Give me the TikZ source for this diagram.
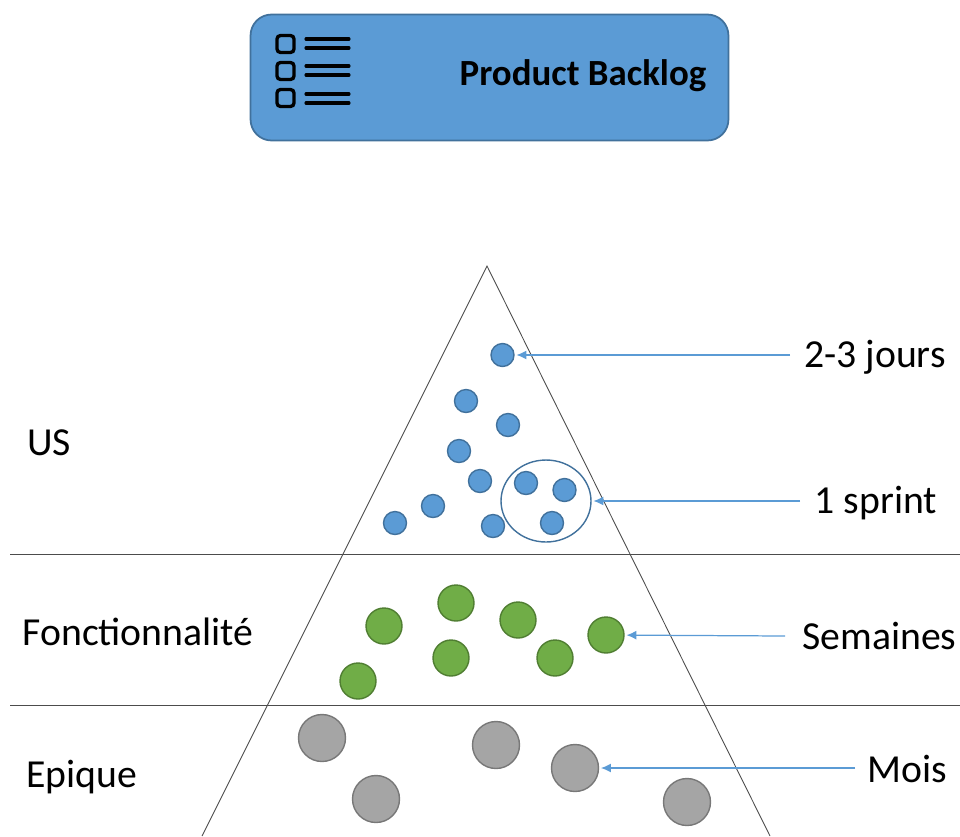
\documentclass[tikz,border=0pt]{standalone}
\usepackage{fontspec}
\usetikzlibrary{shapes.geometric,arrows.meta}
\setmainfont{Carlito}
\definecolor{boxblue}{HTML}{5B9BD5}
\definecolor{boxedge}{HTML}{41719C}
\definecolor{dotgreen}{HTML}{70AD47}
\definecolor{edgegreen}{HTML}{507E32}
\definecolor{dotgray}{HTML}{A5A5A5}
\definecolor{edgegray}{HTML}{787878}
\tikzset{
  usdot/.style={circle, draw=boxedge, line width=0.8pt, fill=boxblue, inner sep=0pt, minimum size=0.46cm},
  featdot/.style={circle, draw=edgegreen, line width=0.8pt, fill=dotgreen, inner sep=0pt, minimum size=0.72cm},
  epicdot/.style={circle, draw=edgegray, line width=0.8pt, fill=dotgray, inner sep=0pt, minimum size=0.94cm},
  lbl/.style={font=\fontsize{22.6}{25}\selectfont, inner sep=0pt},
  pointer/.style={-{Latex[length=0.2cm,width=0.18cm]}, boxblue, line width=0.7pt, shorten >=1pt},
  iconbox/.style={draw=black, line width=1.9pt, rounded corners=2pt, inner sep=0pt, minimum size=0.34cm},
  iconbar/.style={black, line width=1.8pt, line cap=round},
  rule/.style={black!70, line width=0.5pt}
}
\begin{document}
\begin{tikzpicture}[x=0.02cm,y=-0.02cm]
\useasboundingbox (0,0) rectangle (960,836);
% backlog box
\node (backlog) at (489.5,77.5) [draw=boxedge, line width=1pt, fill=boxblue, rounded corners=0.42cm, minimum width=9.56cm, minimum height=2.52cm] {};
\node (title) at (583,76) [font=\fontsize{21}{24}\selectfont\bfseries, inner sep=0pt] {Product Backlog};
% icon
\node (check1) at (285.5,44) [iconbox] {};
\node (check2) at (285.5,71) [iconbox] {};
\node (check3) at (285.5,98) [iconbox] {};
\draw [iconbar] (306,39) -- (349,39);
\draw [iconbar] (306,48) -- (349,48);
\draw [iconbar] (306,66) -- (349,66);
\draw [iconbar] (306,75) -- (349,75);
\draw [iconbar] (306,94) -- (349,94);
\draw [iconbar] (306,103) -- (349,103);
% pyramid
\coordinate (apex) at (487,266);
\coordinate (baseL) at (202,836);
\coordinate (baseR) at (770,836);
\draw [rule] (baseL) -- (apex) -- (baseR);
\draw [rule] (10,554) -- (960,554);
\draw [rule] (10,705) -- (960,705);
% left labels
\node (us) at (49,443) [lbl] {US};
\node (feature) at (138,632) [lbl] {Fonctionnalité};
\node (epic) at (82,777) [lbl] {Epique};
% user stories
\node (us1) at (502.5,355) [usdot] {};
\node (us2) at (466,401) [usdot] {};
\node (us3) at (508,425) [usdot] {};
\node (us4) at (459,451) [usdot] {};
\node (us5) at (480,481) [usdot] {};
\node (us6) at (433,506) [usdot] {};
\node (us7) at (395,523) [usdot] {};
\node (us8) at (493,526) [usdot] {};
\node (us9) at (526,483) [usdot] {};
\node (us10) at (564.5,490) [usdot] {};
\node (us11) at (552,523) [usdot] {};
\node (sprint) at (546,501) [draw=boxedge, line width=0.8pt, ellipse, minimum width=1.8cm, minimum height=1.64cm, inner sep=0pt] {};
% features
\node (feat1) at (384,626) [featdot] {};
\node (feat2) at (456,603) [featdot] {};
\node (feat3) at (518,620) [featdot] {};
\node (feat4) at (606,635) [featdot] {};
\node (feat5) at (451,658) [featdot] {};
\node (feat6) at (555,658) [featdot] {};
\node (feat7) at (358,681) [featdot] {};
% epics
\node (epic1) at (322,738) [epicdot] {};
\node (epic2) at (496,745) [epicdot] {};
\node (epic3) at (575,768) [epicdot] {};
\node (epic4) at (376,799) [epicdot] {};
\node (epic5) at (687,802) [epicdot] {};
% right labels
\node (days) at (875,357) [lbl] {2-3 jours};
\node (onesprint) at (876,503) [lbl] {1 sprint};
\node (weeks) at (879.5,636) [lbl] {Semaines};
\node (months) at (907,769) [lbl] {Mois};
\coordinate (daysend) at (790,355);
\coordinate (sprintend) at (800,501);
\coordinate (weeksend) at (785,636);
\coordinate (monthsend) at (855,768);
\draw [pointer] (daysend) -- (us1);
\draw [pointer] (sprintend) -- (sprint);
\draw [pointer] (weeksend) -- (feat4);
\draw [pointer] (monthsend) -- (epic3);
\end{tikzpicture}
\end{document}
